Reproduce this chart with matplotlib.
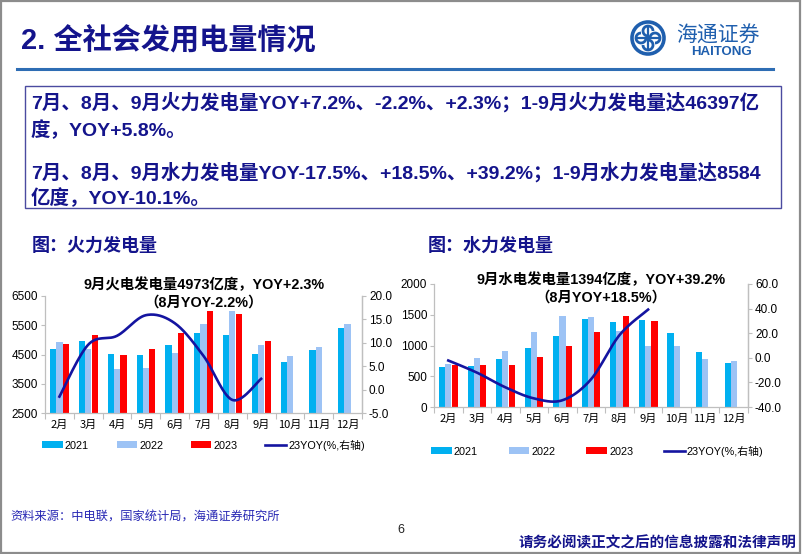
import numpy as np
import matplotlib
matplotlib.use("Agg")
import matplotlib.pyplot as plt
from matplotlib.patches import Rectangle, Circle, Arc
from matplotlib.lines import Line2D
from matplotlib.ticker import FormatStrFormatter

# ---------------- data ----------------
months_all = ["2月", "3月", "4月", "5月", "6月", "7月", "8月", "9月", "10月", "11月", "12月"]
months_2023 = months_all[:8]

thermal_2021 = [4693, 4955, 4520, 4500, 4810, 5240, 5160, 4520, 4260, 4650, 5420]
thermal_2022 = [4920, 4700, 4010, 4045, 4560, 5545, 6000, 4830, 4455, 4740, 5545]
thermal_2023 = [4875, 5150, 4490, 4705, 5230, 6000, 5885, 4973]
thermal_yoy = [-1.5, 9.6, 11.5, 15.9, 14.2, 7.2, -2.2, 2.3]

hydro_2021 = [652, 668, 777, 957, 1147, 1429, 1375, 1413, 1201, 902, 712]
hydro_2022 = [696, 804, 918, 1217, 1484, 1467, 1240, 1000, 995, 783, 745]
hydro_2023 = [680, 685, 685, 821, 984, 1217, 1473, 1394]
hydro_yoy = [-2.2, -12.0, -24.0, -33.0, -34.5, -17.5, 18.5, 39.2]

series_labels = ["2021", "2022", "2023", "23YOY(%,右轴)"]

# ---------------- style ----------------
C21 = "#00B0F0"
C22 = "#9DC3F5"
C23 = "#FF0000"
CLINE = "#1414A0"
NAVY = "#14148C"
GRID = "#BFBFBF"
LAT = ["Liberation Sans", "Noto Sans CJK SC"]
CJK = ["Noto Sans CJK SC", "DejaVu Sans"]
plt.rcParams["font.family"] = LAT
plt.rcParams["axes.unicode_minus"] = False

W, H = 802, 554
fig = plt.figure(figsize=(W / 100, H / 100), dpi=100)


def fx(px):
    return px / W


def fy(py):
    return 1 - py / H


def smooth(xs, ys, n=30):
    P = np.column_stack([xs, ys]).astype(float)
    out = [P[0]]
    m = len(P)
    for i in range(m - 1):
        p0 = P[i - 1] if i > 0 else P[i]
        p1 = P[i]
        p2 = P[i + 1]
        p3 = P[i + 2] if i + 2 < m else P[i + 1]
        c1 = p1 + (p2 - p0) / 6.0
        c2 = p2 - (p3 - p1) / 6.0
        t = np.linspace(0, 1, n)[1:, None]
        seg = ((1 - t) ** 3) * p1 + 3 * ((1 - t) ** 2) * t * c1 + 3 * (1 - t) * t ** 2 * c2 + t ** 3 * p2
        out.extend(seg)
    out = np.array(out)
    return out[:, 0], out[:, 1]


def draw_chart(rect, cats, s21, s22, s23, yoy, ylim, yticks, rlim, rticks, title1, title2,
               t_xy, legend_x, legend_y, colsp):
    ax = fig.add_axes(rect)
    x = np.arange(len(cats))
    w = 0.215
    b1 = ax.bar(x - w, s21, width=w, color=C21, zorder=2)
    b2 = ax.bar(x, s22, width=w, color=C22, zorder=2)
    x23 = np.arange(len(s23))
    b3 = ax.bar(x23 + w + 0.01, s23, width=w, color=C23, zorder=2)
    ax.set_xlim(-0.5, len(cats) - 0.5)
    ax.set_ylim(*ylim)
    ax.set_yticks(yticks)
    ax.set_xticks(x)
    ax.set_xticklabels(cats, family=CJK, fontsize=8)
    ax.set_xticks(np.arange(-0.5, len(cats), 1.0), minor=True)
    ax.tick_params(axis="x", which="major", length=0, pad=5)
    ax.tick_params(axis="x", which="minor", length=4, color=GRID, width=0.8)
    ax.tick_params(axis="y", length=3, color=GRID, width=0.8, labelsize=8.5, pad=2)
    ax.spines["top"].set_visible(False)
    for s in ["left", "bottom", "right"]:
        ax.spines[s].set_color(GRID)
        ax.spines[s].set_linewidth(0.9)

    ax2 = ax.twinx()
    sx, sy = smooth(np.arange(len(yoy)), yoy)
    ln, = ax2.plot(sx, sy, color=CLINE, lw=1.9, zorder=5)
    ax2.set_ylim(*rlim)
    ax2.set_yticks(rticks)
    ax2.yaxis.set_major_formatter(FormatStrFormatter("%.1f"))
    ax2.tick_params(axis="y", length=3, color=GRID, width=0.8, labelsize=8.5, pad=2)
    for s in ["top", "left", "bottom"]:
        ax2.spines[s].set_visible(False)
    ax2.spines["right"].set_color(GRID)
    ax2.spines["right"].set_linewidth(0.9)

    fig.text(fx(t_xy[0]), fy(t_xy[1]), title1, ha="center", va="center",
             fontsize=10.4, fontweight="bold", color="black", family=LAT)
    fig.text(fx(t_xy[0]), fy(t_xy[1] + 18), title2, ha="center", va="center",
             fontsize=10.4, fontweight="bold", color="black", family=LAT)

    leg = fig.legend([b1, b2, b3, ln], series_labels, loc="center left",
                     bbox_to_anchor=(fx(legend_x), fy(legend_y)), ncol=4, frameon=False,
                     fontsize=7.8, handlelength=1.9, handleheight=0.55, handletextpad=0.2,
                     columnspacing=colsp, borderpad=0, borderaxespad=0)
    for t in leg.get_texts():
        t.set_family(LAT)
    return ax, ax2


# left chart: thermal
draw_chart([fx(45), fy(413), (362 - 45) / W, (413 - 296) / H], months_all,
           thermal_2021, thermal_2022, thermal_2023, thermal_yoy,
           (2500, 6500), [2500, 3500, 4500, 5500, 6500], (-5, 20), [-5, 0, 5, 10, 15, 20],
           "9月火电发电量4973亿度，YOY+2.3%", "（8月YOY-2.2%）", (204, 285), 42, 445, 2.55)

# right chart: hydro
draw_chart([fx(434), fy(407), (748 - 434) / W, (407 - 284) / H], months_all,
           hydro_2021, hydro_2022, hydro_2023, hydro_yoy,
           (0, 2000), [0, 500, 1000, 1500, 2000], (-40, 60), [-40, -20, 0, 20, 40, 60],
           "9月水电发电量1394亿度，YOY+39.2%", "（8月YOY+18.5%）", (601, 280), 431, 451, 2.85)

# ---------------- page decoration ----------------
fig.add_artist(Rectangle((0.001, 0.001), 0.997, 0.997, transform=fig.transFigure,
                         fill=False, edgecolor="#8C8C8C", lw=1.6))

fig.text(fx(21), fy(41), "2. 全社会发用电量情况", ha="left", va="center",
         fontsize=21, fontweight="bold", color=NAVY, family=LAT)
fig.add_artist(Line2D([fx(17), fx(773)], [fy(69), fy(69)], color="#2E6DB4", lw=2.2,
                      transform=fig.transFigure))

# logo
lax = fig.add_axes([fx(628), fy(58), 40 / W, 40 / H])
lax.set_xlim(0, 40)
lax.set_ylim(0, 40)
lax.set_aspect("equal")
lax.axis("off")
LOGO = "#1F5FAE"
lax.add_patch(Circle((20, 20), 16, fill=False, edgecolor=LOGO, lw=2.6))
for ang, (cx, cy) in zip([0, 90, 180, 270], [(20, 27), (13, 20), (20, 13), (27, 20)]):
    lax.add_patch(Arc((cx, cy), 10, 10, theta1=ang, theta2=ang + 270, color=LOGO, lw=2.0))
lax.plot([20, 20], [9, 31], color=LOGO, lw=1.6)
lax.plot([9, 31], [20, 20], color=LOGO, lw=1.6)
fig.text(fx(718), fy(36), "海通证券", ha="center", va="center", fontsize=15,
         color=LOGO, family=CJK, style="italic")
fig.text(fx(722), fy(52), "HAITONG", ha="center", va="center", fontsize=9.5,
         fontweight="bold", color=LOGO, family=LAT)

# summary box
fig.add_artist(Rectangle((fx(25), fy(208)), (781 - 25) / W, (208 - 86) / H,
                         transform=fig.transFigure, fill=False, edgecolor="#4B4BA0", lw=1.0))
box_lines = [
    ("7月、8月、9月火力发电量YOY+7.2%、-2.2%、+2.3%；1-9月火力发电量达46397亿", 102),
    ("度，YOY+5.8%。", 130),
    ("7月、8月、9月水力发电量YOY-17.5%、+18.5%、+39.2%；1-9月水力发电量达8584", 172),
    ("亿度，YOY-10.1%。", 198),
]
for txt, yy in box_lines:
    fig.text(fx(31), fy(yy), txt, ha="left", va="center", fontsize=14,
             fontweight="bold", color=NAVY, family=LAT)

# chart captions
fig.text(fx(32), fy(245), "图：火力发电量", ha="left", va="center", fontsize=13,
         fontweight="bold", color=NAVY, family=CJK)
fig.text(fx(428), fy(245), "图：水力发电量", ha="left", va="center", fontsize=13,
         fontweight="bold", color=NAVY, family=CJK)

# footer
fig.text(fx(10), fy(517), "资料来源：中电联，国家统计局，海通证券研究所", ha="left", va="center",
         fontsize=8.8, color="#2828B4", family=CJK)
fig.text(fx(401), fy(530), "6", ha="center", va="center", fontsize=9, color="#222222", family=LAT)
fig.text(fx(796), fy(542), "请务必阅读正文之后的信息披露和法律声明", ha="right", va="center",
         fontsize=10.5, fontweight="bold", color=NAVY, family=CJK)

fig.savefig("out.png", dpi=100)
